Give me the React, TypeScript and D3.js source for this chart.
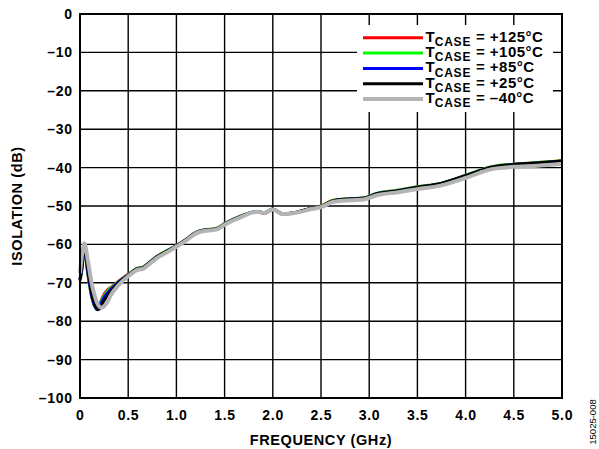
import React from "react";
import * as d3 from "d3";

const freqs = [0, 0.02, 0.045, 0.08, 0.12, 0.16, 0.18, 0.2, 0.22, 0.25, 0.28, 0.32, 0.4, 0.5, 0.6, 0.65, 0.7, 0.8, 0.9, 1.0, 1.1, 1.2, 1.25, 1.42, 1.5, 1.67, 1.84, 1.91, 2.0, 2.1, 2.25, 2.4, 2.5, 2.63, 2.8, 2.94, 3.08, 3.3, 3.5, 3.74, 4.0, 4.15, 4.27, 4.5, 4.75, 5.0];

const t125 = [-69.5, -66.5, -61.0, -67.5, -73.5, -76.5, -77.0, -76.0, -74.6, -73.0, -72.0, -71.2, -69.6, -67.8, -66.2, -66.0, -65.1, -63.1, -61.7, -60.3, -58.7, -56.9, -56.4, -55.8, -54.6, -52.6, -51.5, -51.9, -50.9, -52.1, -51.7, -50.6, -50.0, -48.5, -48.1, -47.9, -46.7, -45.9, -45.0, -44.1, -42.0, -40.7, -39.8, -39.1, -38.7, -38.2];
const t105 = [-69.4, -66.4, -60.9, -67.4, -73.4, -76.5, -77.0, -76.2, -74.9, -73.4, -72.4, -71.4, -69.7, -67.9, -66.2, -66.0, -65.1, -63.1, -61.7, -60.3, -58.7, -56.9, -56.4, -55.8, -54.6, -52.6, -51.4, -51.8, -50.8, -52.0, -51.6, -50.6, -50.0, -48.5, -48.1, -47.9, -46.7, -45.9, -45.0, -44.1, -42.0, -40.7, -39.8, -39.1, -38.7, -38.2];
const t85 = [-69.2, -66.2, -60.7, -67.0, -73.2, -76.4, -77.0, -76.5, -75.3, -73.8, -72.8, -71.7, -69.8, -68.0, -66.3, -66.1, -65.2, -63.2, -61.8, -60.4, -58.8, -57.0, -56.5, -55.9, -54.7, -52.7, -51.4, -51.8, -50.8, -52.0, -51.6, -50.6, -50.1, -48.6, -48.2, -48.0, -46.8, -46.0, -45.1, -44.2, -42.1, -40.8, -39.9, -39.2, -38.8, -38.3];
const t25 = [-69.0, -65.8, -60.4, -66.2, -72.5, -76.0, -76.9, -76.9, -76.0, -74.6, -73.6, -72.2, -70.0, -68.0, -66.3, -66.1, -65.2, -63.2, -61.8, -60.4, -58.8, -57.0, -56.5, -55.9, -54.7, -52.7, -51.4, -51.8, -50.8, -52.0, -51.6, -50.6, -50.1, -48.6, -48.2, -48.0, -46.8, -46.0, -45.1, -44.2, -42.1, -40.8, -39.9, -39.2, -38.8, -38.3];
const tm40 = [-67.5, -63.0, -59.7, -64.0, -70.0, -74.0, -75.4, -76.2, -76.5, -76.1, -75.2, -73.2, -70.6, -68.3, -66.6, -66.4, -65.5, -63.5, -62.1, -60.6, -59.0, -57.2, -56.7, -56.1, -54.9, -52.9, -51.5, -51.8, -50.9, -52.1, -51.7, -50.8, -50.3, -48.9, -48.5, -48.3, -47.2, -46.4, -45.6, -44.7, -42.7, -41.3, -40.4, -39.8, -39.5, -39.0];

const seriesLabels = ["= +125°C", "= +105°C", "= +85°C", "= +25°C", "= –40°C"];
const seriesColors = ["#ff0000", "#00ff00", "#0000ff", "#000000", "#b4b4b4"];
const seriesData = [t125, t105, t85, t25, tm40];
const seriesWidths = [3, 3, 3, 3, 4];

const xTicks = [0, 0.5, 1.0, 1.5, 2.0, 2.5, 3.0, 3.5, 4.0, 4.5, 5.0];
const xTickLabels = ["0", "0.5", "1.0", "1.5", "2.0", "2.5", "3.0", "3.5", "4.0", "4.5", "5.0"];
const yTicks = [0, -10, -20, -30, -40, -50, -60, -70, -80, -90, -100];
const yTickLabels = ["0", "–10", "–20", "–30", "–40", "–50", "–60", "–70", "–80", "–90", "–100"];

const W = 599, H = 449;
const left = 80, right = 562, top = 14, bottom = 398;
const FONT = "'Liberation Sans', Arial, sans-serif";

export default function App() {
  const x = d3.scaleLinear().domain([0, 5]).range([left, right]);
  const y = d3.scaleLinear().domain([-100, 0]).range([bottom, top]);
  const line = d3.line<number>().x((_, i) => x(freqs[i])).y((v) => y(v)).curve(d3.curveMonotoneX);

  const legX1 = 363, legX2 = 423, legY0 = 37.7, legDy = 15.35;
  const ls = 0.7;

  return (
    <svg width={W} height={H} style={{ position: "absolute", left: 0, top: 0, background: "#fff" }} fontFamily={FONT}>
      <rect width={W} height={H} fill="#fff" />
      {xTicks.map((t) => (
        <line key={"gx" + t} x1={x(t)} x2={x(t)} y1={top} y2={bottom} stroke="#000" strokeWidth={1.4} />
      ))}
      {yTicks.map((t) => (
        <line key={"gy" + t} x1={left} x2={right} y1={y(t)} y2={y(t)} stroke="#000" strokeWidth={1.4} />
      ))}
      <rect x={357} y={25} width={196} height={87} fill="#fff" />
      {seriesData.map((d, i) => (
        <path key={"s" + i} d={line(d) || ""} fill="none" stroke={seriesColors[i]} strokeWidth={seriesWidths[i]} strokeLinejoin="round" />
      ))}
      <rect x={left} y={top} width={right - left} height={bottom - top} fill="none" stroke="#000" strokeWidth={2} />
      {yTicks.map((t, i) => (
        <text key={"ty" + t} x={72 + ls} y={y(t) + 5} textAnchor="end" fontSize={14} fontWeight="bold" letterSpacing={ls}>{yTickLabels[i]}</text>
      ))}
      {xTicks.map((t, i) => (
        <text key={"tx" + t} x={x(t) + ls / 2} y={419.5} textAnchor="middle" fontSize={14} fontWeight="bold" letterSpacing={ls}>{xTickLabels[i]}</text>
      ))}
      <text x={(left + right) / 2} y={444.5} textAnchor="middle" fontSize={14.5} fontWeight="bold" letterSpacing={0.6}>FREQUENCY (GHz)</text>
      <text transform={`translate(22,${(top + bottom) / 2}) rotate(-90)`} textAnchor="middle" fontSize={14.5} fontWeight="bold" letterSpacing={0.6}>ISOLATION (dB)</text>
      <text transform={`translate(596,422) rotate(-90)`} textAnchor="middle" fontSize={9.5}>15025-008</text>
      {seriesLabels.map((lab, i) => {
        const yy = legY0 + i * legDy;
        return (
          <g key={"lg" + i}>
            <line x1={legX1} x2={legX2} y1={yy} y2={yy} stroke={seriesColors[i]} strokeWidth={seriesWidths[i]} />
            <text x={425.5} y={yy + 3.8} fontSize={15} fontWeight="bold">
              T<tspan fontSize={12} dy={4.3} letterSpacing={0.8}>CASE</tspan><tspan dy={-4.3} letterSpacing={0.5}> {lab}</tspan>
            </text>
          </g>
        );
      })}
    </svg>
  );
}
